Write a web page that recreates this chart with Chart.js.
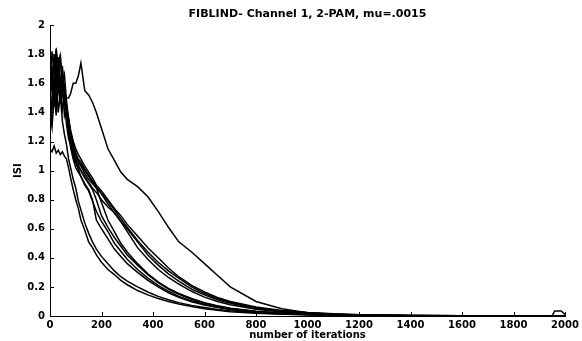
<!DOCTYPE html>
<html>
<head>
<meta charset="utf-8">
<script src="https://cdn.jsdelivr.net/npm/chart.js@4/dist/chart.umd.min.js"></script>
<style>
  html, body { margin: 0; padding: 0; background: #fff; }
  #wrap { width: 582px; height: 341px; }
</style>
</head>
<body>
<div id="wrap"><canvas id="chart" width="582" height="341"></canvas></div>
<script>
// iteration index where each run was sampled
const iterations = [0, 8, 16, 24, 32, 40, 48, 56, 64, 72, 80, 90, 100, 110, 120, 135, 150, 165, 180, 200,
  225, 250, 275, 300, 340, 380, 420, 460, 500, 550, 600, 650, 700, 800, 900, 1000, 1100, 1200, 1400, 1600,
  1800, 1950, 1960, 1985, 2000];

// ISI of each run (one curve per run)
const run1 = [1.15, 1.13, 1.17, 1.12, 1.14, 1.11, 1.13, 1.1, 1.08, 1.02, 0.95, 0.87, 0.8, 0.74, 0.66, 0.59, 0.51, 0.47, 0.42, 0.37,
  0.32, 0.285, 0.245, 0.215, 0.175, 0.145, 0.12, 0.1, 0.082, 0.065, 0.05, 0.039, 0.03, 0.019, 0.012, 0.008, 0.005, 0.003, 0.002, 0.001,
  0.001, 0.001, 0.001, 0.001, 0.001];
const run2 = [1.55, 1.72, 1.48, 1.66, 1.4, 1.52, 1.34, 1.25, 1.18, 1.08, 1.02, 0.94, 0.88, 0.79, 0.73, 0.64, 0.57, 0.51, 0.46, 0.41,
  0.36, 0.31, 0.27, 0.24, 0.2, 0.165, 0.135, 0.112, 0.092, 0.073, 0.058, 0.045, 0.036, 0.022, 0.014, 0.009, 0.006, 0.004, 0.002, 0.001,
  0.001, 0.001, 0.001, 0.001, 0.001];
const run3 = [1.45, 1.65, 1.5, 1.78, 1.55, 1.62, 1.42, 1.5, 1.32, 1.22, 1.18, 1.1, 1.05, 1.01, 0.96, 0.9, 0.86, 0.79, 0.72, 0.65,
  0.58, 0.5, 0.445, 0.39, 0.32, 0.26, 0.21, 0.17, 0.135, 0.105, 0.08, 0.062, 0.048, 0.028, 0.017, 0.011, 0.007, 0.004, 0.002, 0.001,
  0.001, 0.001, 0.001, 0.001, 0.001];
const run4 = [1.7, 1.55, 1.8, 1.62, 1.75, 1.5, 1.6, 1.38, 1.45, 1.3, 1.2, 1.14, 1.08, 1.04, 1.0, 0.95, 0.91, 0.87, 0.8, 0.69,
  0.61, 0.54, 0.48, 0.42, 0.35, 0.285, 0.23, 0.185, 0.15, 0.115, 0.088, 0.068, 0.052, 0.031, 0.019, 0.012, 0.007, 0.004, 0.002, 0.001,
  0.001, 0.001, 0.001, 0.001, 0.001];
const run5 = [1.25, 1.42, 1.58, 1.45, 1.68, 1.78, 1.6, 1.66, 1.48, 1.36, 1.26, 1.17, 1.1, 1.06, 1.03, 0.98, 0.94, 0.91, 0.88, 0.78,
  0.66, 0.58, 0.5, 0.44, 0.36, 0.29, 0.235, 0.19, 0.155, 0.12, 0.092, 0.07, 0.054, 0.032, 0.02, 0.012, 0.007, 0.004, 0.002, 0.001,
  0.001, 0.001, 0.001, 0.001, 0.001];
const run6 = [1.6, 1.82, 1.66, 1.84, 1.7, 1.8, 1.55, 1.48, 1.36, 1.25, 1.16, 1.08, 1.02, 0.99, 0.96, 0.91, 0.87, 0.8, 0.66, 0.6,
  0.53, 0.46, 0.41, 0.36, 0.3, 0.245, 0.2, 0.16, 0.128, 0.098, 0.075, 0.058, 0.045, 0.027, 0.016, 0.01, 0.006, 0.004, 0.002, 0.001,
  0.001, 0.001, 0.001, 0.001, 0.001];
const run7 = [1.4, 1.3, 1.52, 1.38, 1.6, 1.46, 1.7, 1.55, 1.42, 1.35, 1.25, 1.17, 1.1, 1.07, 1.04, 1.0, 0.96, 0.92, 0.88, 0.84,
  0.79, 0.73, 0.67, 0.61, 0.52, 0.44, 0.37, 0.31, 0.26, 0.2, 0.155, 0.12, 0.094, 0.057, 0.035, 0.022, 0.013, 0.008, 0.003, 0.001,
  0.001, 0.001, 0.001, 0.001, 0.001];
const run8 = [1.75, 1.62, 1.76, 1.82, 1.66, 1.58, 1.72, 1.5, 1.44, 1.36, 1.28, 1.2, 1.12, 1.08, 1.06, 1.01, 0.97, 0.93, 0.89, 0.84,
  0.77, 0.71, 0.65, 0.6, 0.51, 0.42, 0.35, 0.29, 0.24, 0.185, 0.145, 0.112, 0.087, 0.052, 0.032, 0.02, 0.012, 0.007, 0.003, 0.001,
  0.001, 0.001, 0.001, 0.001, 0.001];
const run9 = [1.5, 1.68, 1.44, 1.6, 1.78, 1.62, 1.52, 1.58, 1.4, 1.3, 1.2, 1.12, 1.06, 1.02, 1.0, 0.96, 0.92, 0.88, 0.85, 0.8,
  0.75, 0.71, 0.65, 0.58, 0.47, 0.39, 0.32, 0.265, 0.22, 0.17, 0.13, 0.1, 0.078, 0.047, 0.028, 0.017, 0.01, 0.006, 0.003, 0.001,
  0.001, 0.001, 0.001, 0.001, 0.001];
const run10 = [1.3, 1.48, 1.62, 1.78, 1.64, 1.56, 1.66, 1.5, 1.4, 1.32, 1.26, 1.2, 1.15, 1.11, 1.08, 1.03, 0.99, 0.95, 0.9, 0.86,
  0.8, 0.74, 0.69, 0.63, 0.55, 0.47, 0.4, 0.33, 0.27, 0.21, 0.165, 0.128, 0.1, 0.062, 0.038, 0.024, 0.015, 0.009, 0.004, 0.002,
  0.001, 0.001, 0.035, 0.035, 0.01];
const run11 = [1.35, 1.5, 1.62, 1.48, 1.58, 1.52, 1.6, 1.55, 1.5, 1.5, 1.53, 1.6, 1.6, 1.65, 1.74, 1.55, 1.52, 1.47, 1.4, 1.29,
  1.15, 1.07, 0.99, 0.94, 0.89, 0.82, 0.72, 0.61, 0.51, 0.44, 0.36, 0.28, 0.2, 0.1, 0.05, 0.022, 0.01, 0.005, 0.002, 0.001,
  0.001, 0.001, 0.001, 0.001, 0.001];

const runs = [run1, run2, run3, run4, run5, run6, run7, run8, run9, run10, run11];

const xTicks = [0, 200, 400, 600, 800, 1000, 1200, 1400, 1600, 1800, 2000];
const yTicks = [0, 0.2, 0.4, 0.6, 0.8, 1, 1.2, 1.4, 1.6, 1.8, 2];

Chart.defaults.font.family = '"DejaVu Sans", sans-serif';
Chart.defaults.font.size = 10;
Chart.defaults.font.weight = 'bold';
Chart.defaults.color = '#000';

// matlab-style ticks pointing into the plot
const inwardTicks = {
  id: 'inwardTicks',
  afterDraw(chart) {
    const { ctx, chartArea, scales } = chart;
    ctx.save();
    ctx.strokeStyle = '#000';
    ctx.lineWidth = 1;
    ctx.beginPath();
    xTicks.forEach(v => {
      const px = Math.round(scales.x.getPixelForValue(v)) + 0.5;
      ctx.moveTo(px, chartArea.bottom);
      ctx.lineTo(px, chartArea.bottom - 4);
    });
    yTicks.forEach(v => {
      const py = Math.round(scales.y.getPixelForValue(v)) + 0.5;
      ctx.moveTo(chartArea.left, py);
      ctx.lineTo(chartArea.left + 4, py);
    });
    ctx.stroke();
    ctx.restore();
  }
};

new Chart(document.getElementById('chart'), {
  type: 'line',
  data: {
    datasets: runs.map(r => ({
      data: r.map((v, i) => ({ x: iterations[i], y: v })),
      borderColor: '#000',
      borderWidth: 1.5,
      pointRadius: 0,
      tension: 0,
      fill: false
    }))
  },
  options: {
    responsive: false,
    animation: false,
    layout: { padding: { left: 0, right: 17, top: 0, bottom: 0 } },
    plugins: {
      legend: { display: false },
      tooltip: { enabled: false },
      title: {
        display: true,
        fullSize: false,
        text: 'FIBLIND- Channel 1, 2-PAM, mu=.0015',
        font: { size: 11, weight: 'bold' },
        padding: { top: 8, bottom: 4 }
      }
    },
    scales: {
      x: {
        type: 'linear',
        min: 0,
        max: 2000,
        afterBuildTicks: s => { s.ticks = xTicks.map(v => ({ value: v })); },
        afterFit: s => { s.height = 25; },
        ticks: { padding: 3, maxRotation: 0, callback: v => String(v) },
        grid: { display: false, drawTicks: false },
        border: { display: true, color: '#000', width: 1 },
        title: { display: true, text: 'number of iterations', padding: 0 }
      },
      y: {
        min: 0,
        max: 2,
        afterBuildTicks: s => { s.ticks = yTicks.map(v => ({ value: v })); },
        afterFit: s => { s.width = 50; },
        ticks: { padding: 5, callback: v => String(v) },
        grid: { display: false, drawTicks: false },
        border: { display: true, color: '#000', width: 1 },
        title: { display: true, text: 'ISI', padding: { top: 12, bottom: 0 } }
      }
    }
  },
  plugins: [inwardTicks]
});
</script>
</body>
</html>
